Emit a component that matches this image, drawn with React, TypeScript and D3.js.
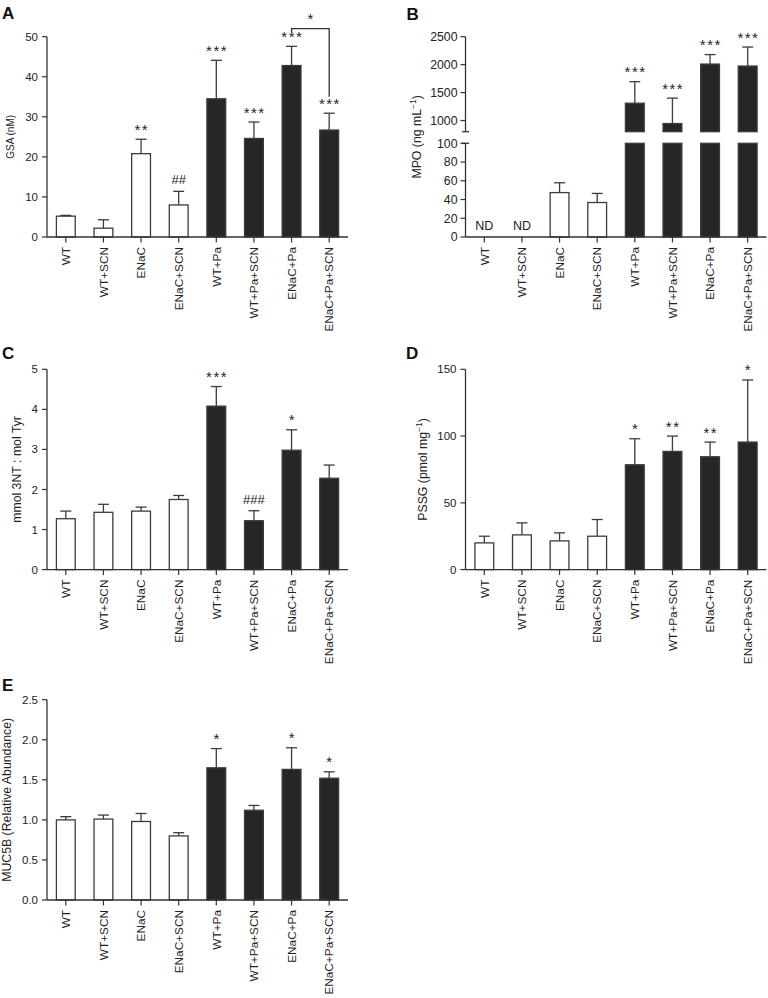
import * as d3 from "d3";

const categories = [
  "WT",
  "WT+SCN",
  "ENaC",
  "ENaC+SCN",
  "WT+Pa",
  "WT+Pa+SCN",
  "ENaC+Pa",
  "ENaC+Pa+SCN",
];

// A: GSA (nM)
const gsaMean = [5.2, 2.2, 20.8, 8.0, 34.5, 24.6, 42.8, 26.7];
const gsaSem = [0.2, 2.1, 3.6, 3.4, 9.6, 4.1, 4.8, 4.2];
const gsaSig = ["", "", "**", "##", "***", "***", "***", "***"];
const gsaTicks = [0, 10, 20, 30, 40, 50];
const gsaBracket = { from: "ENaC+Pa", to: "ENaC+Pa+SCN", label: "*", y: 52, leftEnd: 51, rightEnd: 35 };

// B: MPO (ng/mL), broken axis
const mpoMean = [null, null, 47.4, 36.8, 1310, 946, 2010, 1975];
const mpoSem = [0, 0, 10.5, 9.7, 385, 455, 170, 340];
const mpoSig = ["", "", "", "", "***", "***", "***", "***"];
const mpoLowTicks = [0, 20, 40, 60, 80, 100];
const mpoHighTicks = [1000, 1500, 2000, 2500];

// C: 3NT
const ntMean = [1.27, 1.43, 1.46, 1.75, 4.08, 1.22, 2.98, 2.28];
const ntSem = [0.19, 0.2, 0.1, 0.1, 0.49, 0.25, 0.51, 0.33];
const ntSig = ["", "", "", "", "***", "###", "*", ""];
const ntTicks = [0, 1, 2, 3, 4, 5];

// D: PSSG
const pssgMean = [20, 26, 21.5, 25, 78.5, 88.5, 84.5, 95.5];
const pssgSem = [5, 9, 6, 12.5, 19.5, 11.5, 11, 46.5];
const pssgSig = ["", "", "", "", "*", "**", "**", "*"];
const pssgTicks = [0, 50, 100, 150];

// E: MUC5B
const mucMean = [1.0, 1.01, 0.98, 0.8, 1.65, 1.12, 1.63, 1.52];
const mucSem = [0.04, 0.05, 0.1, 0.04, 0.24, 0.06, 0.27, 0.08];
const mucSig = ["", "", "", "", "*", "", "*", "*"];
const mucTicks = [0, 0.5, 1.0, 1.5, 2.0, 2.5];

const FONT = "'Liberation Sans', Arial, Helvetica, sans-serif";
const AXIS = "#333";
const BAR_STROKE = "#3c3c3c";
const DARK = "#262626";
const PLOT_W = 301;
const PLOT_H = 200.3;
const CAP = 5.5;

function tickWidth(s: string, fs: number) {
  let w = 0;
  for (const ch of s) w += ch === "." ? 0.278 : 0.556;
  return w * fs;
}

function xBand(ax: number) {
  return d3.scaleBand<string>().domain(categories).range([ax, ax + PLOT_W]).paddingInner(0.5).paddingOuter(0.25);
}

function XAxis({ ax, baseY }: { ax: number; baseY: number }) {
  const x = xBand(ax);
  return (
    <g>
      <line x1={ax} x2={ax + PLOT_W} y1={baseY} y2={baseY} stroke={AXIS} strokeWidth={1.3} />
      {categories.map((c) => {
        const cx = x(c)! + x.bandwidth() / 2;
        return (
          <g key={c}>
            <line x1={cx} x2={cx} y1={baseY} y2={baseY + 5.5} stroke={AXIS} strokeWidth={1.2} />
            <text
              transform={`translate(${cx + 4.2},${baseY + 10}) rotate(-90)`}
              textAnchor="end"
              fontSize={11.8}
              fill="#222"
            >
              {c}
            </text>
          </g>
        );
      })}
    </g>
  );
}

function YTicks({ ax, y, ticks, fmt, fs = 11.5, gap = 9 }: { ax: number; y: d3.ScaleLinear<number, number>; ticks: number[]; fmt: (v: number) => string; fs?: number; gap?: number }) {
  return (
    <g>
      {ticks.map((t) => (
        <g key={t}>
          <line x1={ax - 5} x2={ax} y1={y(t)} y2={y(t)} stroke={AXIS} strokeWidth={1.2} />
          <text x={ax - gap} y={y(t)} dy="0.35em" textAnchor="end" fontSize={fs} fill="#222">
            {fmt(t)}
          </text>
        </g>
      ))}
    </g>
  );
}

function SigLabel({ cx, top, label }: { cx: number; top: number; label: string }) {
  if (!label) return null;
  const hash = label.startsWith("#");
  const ls = hash ? 0 : 1.5;
  return (
    <text
      x={cx + ls / 2}
      y={hash ? top - 5 : top - 2.5}
      textAnchor="middle"
      fontSize={hash ? 13 : 15}
      letterSpacing={ls}
      fill="#222"
    >
      {label}
    </text>
  );
}

function Bars({ ax, y, mean, sem, sig }: { ax: number; y: d3.ScaleLinear<number, number>; mean: (number | null)[]; sem: number[]; sig: string[] }) {
  const x = xBand(ax);
  const y0 = y(0);
  return (
    <g>
      {categories.map((c, i) => {
        const m = mean[i];
        if (m === null) return null;
        const bx = x(c)!;
        const cx = bx + x.bandwidth() / 2;
        const dark = c.includes("+Pa");
        const errTop = y(m + sem[i]);
        return (
          <g key={c}>
            <line x1={cx} x2={cx} y1={y(m)} y2={errTop} stroke={BAR_STROKE} strokeWidth={1.3} />
            <line x1={cx - CAP} x2={cx + CAP} y1={errTop} y2={errTop} stroke={BAR_STROKE} strokeWidth={1.3} />
            <rect x={bx} y={y(m)} width={x.bandwidth()} height={y0 - y(m)} fill={dark ? DARK : "#fff"} stroke={BAR_STROKE} strokeWidth={1.3} />
            <SigLabel cx={cx} top={errTop - 2} label={sig[i]} />
          </g>
        );
      })}
    </g>
  );
}

type SimpleProps = {
  letter: string;
  letterX: number;
  letterY: number;
  ax: number;
  top: number;
  title: React.ReactNode;
  titleSize: number;
  mean: number[];
  sem: number[];
  sig: string[];
  ticks: number[];
  fmt: (v: number) => string;
  children?: (y: d3.ScaleLinear<number, number>, x: d3.ScaleBand<string>) => React.ReactNode;
};

function PanelLetter({ x, y, letter }: { x: number; y: number; letter: string }) {
  return (
    <text x={x} y={y} fontSize={17} fontWeight="bold" fill="#111">
      {letter}
    </text>
  );
}

function SimplePanel({ letter, letterX, letterY, ax, top, title, titleSize, mean, sem, sig, ticks, fmt, children }: SimpleProps) {
  const baseY = top + PLOT_H;
  const y = d3.scaleLinear().domain([ticks[0], ticks[ticks.length - 1]]).range([baseY, top]);
  const maxTw = Math.max(...ticks.map((t) => tickWidth(fmt(t), 11.5)));
  const titleX = ax - maxTw - 24;
  return (
    <g>
      <PanelLetter x={letterX} y={letterY} letter={letter} />
      <line x1={ax} x2={ax} y1={top} y2={baseY} stroke={AXIS} strokeWidth={1.3} />
      <YTicks ax={ax} y={y} ticks={ticks} fmt={fmt} />
      <text
        transform={`translate(${titleX + titleSize * 0.35},${top + PLOT_H / 2}) rotate(-90)`}
        textAnchor="middle"
        fontSize={titleSize}
        fill="#222"
      >
        {title}
      </text>
      <Bars ax={ax} y={y} mean={mean} sem={sem} sig={sig} />
      <XAxis ax={ax} baseY={baseY} />
      {children ? children(y, xBand(ax)) : null}
    </g>
  );
}

function BrokenPanel({ ax, top }: { ax: number; top: number }) {
  const baseY = top + PLOT_H;
  const x = xBand(ax);
  const yLow = d3.scaleLinear().domain([0, 100]).range([baseY, top + 106.6]);
  const yHigh = d3.scaleLinear().domain([800, 2500]).range([top + 95, top]);
  const fmt = (v: number) => String(v);
  const titleX = ax - 48.5;
  const breakHi = yHigh(800);
  const breakLo = yLow(100);
  return (
    <g>
      <PanelLetter x={406.5} y={20.3} letter="B" />
      <line x1={ax} x2={ax} y1={top} y2={breakHi} stroke={AXIS} strokeWidth={1.3} />
      <line x1={ax} x2={ax} y1={breakLo} y2={baseY} stroke={AXIS} strokeWidth={1.3} />
      <line x1={ax - 3.5} x2={ax + 3.5} y1={breakHi} y2={breakHi} stroke={AXIS} strokeWidth={1.3} />
      <line x1={ax - 3.5} x2={ax + 3.5} y1={breakLo} y2={breakLo} stroke={AXIS} strokeWidth={1.3} />
      <YTicks ax={ax} y={yHigh} ticks={mpoHighTicks} fmt={fmt} fs={12.3} gap={8} />
      <YTicks ax={ax} y={yLow} ticks={mpoLowTicks} fmt={fmt} fs={12.3} gap={8} />
      <text
        transform={`translate(${titleX + 12.3 * 0.35},${top + PLOT_H / 2}) rotate(-90)`}
        textAnchor="middle"
        fontSize={12.3}
        fill="#222"
      >
        MPO (ng mL
        <tspan fontSize={8.5} dy={-5}>
          −1
        </tspan>
        <tspan dy={5}>)</tspan>
      </text>
      {categories.map((c, i) => {
        const m = mpoMean[i];
        const bx = x(c)!;
        const cx = bx + x.bandwidth() / 2;
        if (m === null) {
          return (
            <text key={c} x={cx} y={baseY - 7.5} textAnchor="middle" fontSize={12.5} fill="#222">
              ND
            </text>
          );
        }
        const dark = c.includes("+Pa");
        const fill = dark ? DARK : "#fff";
        if (m <= 100) {
          const errTop = yLow(m + mpoSem[i]);
          return (
            <g key={c}>
              <line x1={cx} x2={cx} y1={yLow(m)} y2={errTop} stroke={BAR_STROKE} strokeWidth={1.3} />
              <line x1={cx - CAP} x2={cx + CAP} y1={errTop} y2={errTop} stroke={BAR_STROKE} strokeWidth={1.3} />
              <rect x={bx} y={yLow(m)} width={x.bandwidth()} height={baseY - yLow(m)} fill={fill} stroke={BAR_STROKE} strokeWidth={1.3} />
              <SigLabel cx={cx} top={errTop - 2} label={mpoSig[i]} />
            </g>
          );
        }
        const errTop = yHigh(m + mpoSem[i]);
        return (
          <g key={c}>
            <line x1={cx} x2={cx} y1={yHigh(m)} y2={errTop} stroke={BAR_STROKE} strokeWidth={1.3} />
            <line x1={cx - CAP} x2={cx + CAP} y1={errTop} y2={errTop} stroke={BAR_STROKE} strokeWidth={1.3} />
            <rect x={bx} y={yHigh(m)} width={x.bandwidth()} height={breakHi - yHigh(m)} fill={fill} stroke={BAR_STROKE} strokeWidth={1.3} />
            <rect x={bx} y={breakLo} width={x.bandwidth()} height={baseY - breakLo} fill={fill} stroke={BAR_STROKE} strokeWidth={1.3} />
            <SigLabel cx={cx} top={errTop - 2} label={mpoSig[i]} />
          </g>
        );
      })}
      <XAxis ax={ax} baseY={baseY} />
    </g>
  );
}

const intFmt = (v: number) => String(v);
const oneDec = d3.format(".1f");

export default function App() {
  return (
    <svg
      width={768}
      height={998}
      style={{ position: "absolute", left: 0, top: 0, display: "block", background: "#fff" }}
      fontFamily={FONT}
    >
      <rect width={768} height={998} fill="#fff" />
      <SimplePanel
        letter="A"
        letterX={2}
        letterY={19.3}
        ax={47}
        top={36.7}
        title="GSA (nM)"
        titleSize={10}
        mean={gsaMean}
        sem={gsaSem}
        sig={gsaSig}
        ticks={gsaTicks}
        fmt={intFmt}
      >
        {(y, x) => {
          const x1 = x(gsaBracket.from)! + x.bandwidth() / 2;
          const x2 = x(gsaBracket.to)! + x.bandwidth() / 2;
          const by = y(gsaBracket.y);
          return (
            <g>
              <path
                d={`M${x1},${y(gsaBracket.leftEnd)}V${by}H${x2}V${y(gsaBracket.rightEnd)}`}
                fill="none"
                stroke={AXIS}
                strokeWidth={1.3}
              />
              <SigLabel cx={(x1 + x2) / 2} top={by - 2} label={gsaBracket.label} />
            </g>
          );
        }}
      </SimplePanel>
      <BrokenPanel ax={465.5} top={36.7} />
      <SimplePanel
        letter="C"
        letterX={2}
        letterY={359}
        ax={47}
        top={369.3}
        title="mmol 3NT : mol Tyr"
        titleSize={12.3}
        mean={ntMean}
        sem={ntSem}
        sig={ntSig}
        ticks={ntTicks}
        fmt={intFmt}
      />
      <SimplePanel
        letter="D"
        letterX={406}
        letterY={358.5}
        ax={465.5}
        top={369.3}
        title={
          <>
            PSSG (pmol mg
            <tspan fontSize={8.5} dy={-5}>
              −1
            </tspan>
            <tspan dy={5}>)</tspan>
          </>
        }
        titleSize={12.3}
        mean={pssgMean}
        sem={pssgSem}
        sig={pssgSig}
        ticks={pssgTicks}
        fmt={intFmt}
      />
      <SimplePanel
        letter="E"
        letterX={2}
        letterY={691}
        ax={47}
        top={699.7}
        title="MUC5B (Relative Abundance)"
        titleSize={12.3}
        mean={mucMean}
        sem={mucSem}
        sig={mucSig}
        ticks={mucTicks}
        fmt={oneDec}
      />
    </svg>
  );
}
